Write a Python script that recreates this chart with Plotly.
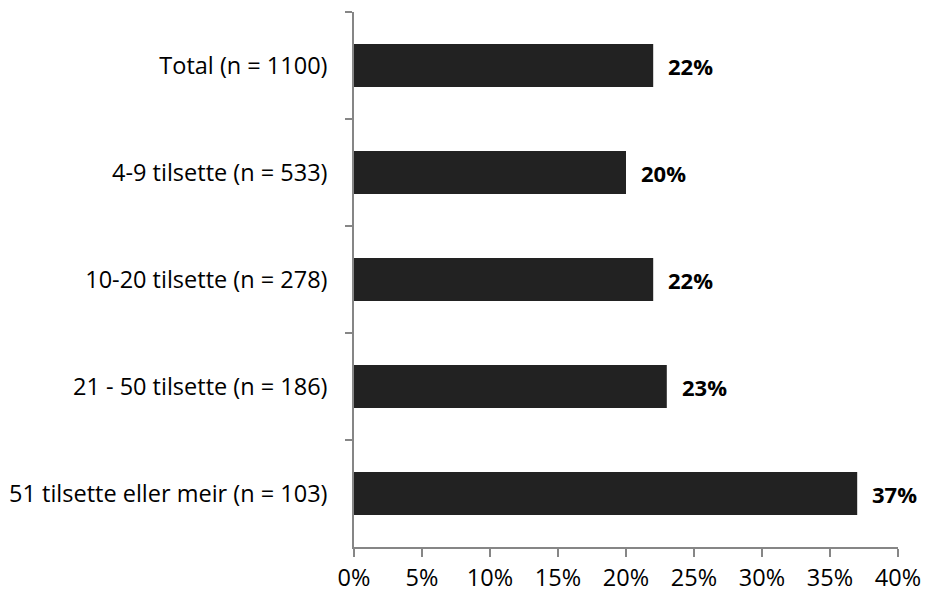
import plotly.graph_objects as go

categories = [
    "Total (n = 1100)",
    "4-9 tilsette (n = 533)",
    "10-20 tilsette (n = 278)",
    "21 - 50 tilsette (n = 186)",
    "51 tilsette eller meir (n = 103)",
]
values = [22, 20, 22, 23, 37]
x_ticks = [0, 5, 10, 15, 20, 25, 30, 35, 40]
x_tick_labels = [f"{t}%" for t in x_ticks]

FONT = "'Open Sans', 'Noto Sans', sans-serif"
AXIS_COLOR = "#868686"

fig = go.Figure(
    go.Bar(
        y=categories,
        x=values,
        orientation="h",
        marker=dict(color="#222222", line=dict(color="#222222", width=0)),
        hoverinfo="skip",
    )
)

for cat, val in zip(categories, values):
    fig.add_annotation(
        x=val, y=cat, text=f"<b>{val}%</b>", showarrow=False,
        xanchor="left", xshift=13, font=dict(family=FONT, size=22, color="#000000"),
    )

fig.update_layout(
    width=925, height=592,
    margin=dict(l=354, r=27, t=12, b=45),
    paper_bgcolor="white", plot_bgcolor="white",
    bargap=0.6,
    showlegend=False,
    font=dict(family=FONT, size=23.5, color="#000000"),
)
fig.update_xaxes(
    range=[0, 40], tickvals=x_ticks, ticktext=x_tick_labels,
    showgrid=False, zeroline=False, automargin=False,
    showline=True, linecolor=AXIS_COLOR, linewidth=1.5,
    ticks="outside", ticklen=8, tickcolor=AXIS_COLOR, tickwidth=1.5,
    tickfont=dict(family=FONT, size=23.5), ticklabelstandoff=1, fixedrange=True,
)
fig.update_yaxes(
    categoryorder="array", categoryarray=categories, autorange="reversed",
    showgrid=False, zeroline=False, automargin=False,
    showline=True, linecolor=AXIS_COLOR, linewidth=1.5,
    ticks="outside", tickson="boundaries", ticklen=7, tickcolor=AXIS_COLOR, tickwidth=1.5,
    tickfont=dict(family=FONT, size=23.5), ticklabelstandoff=20, fixedrange=True,
)

fig.write_html("out.html")
